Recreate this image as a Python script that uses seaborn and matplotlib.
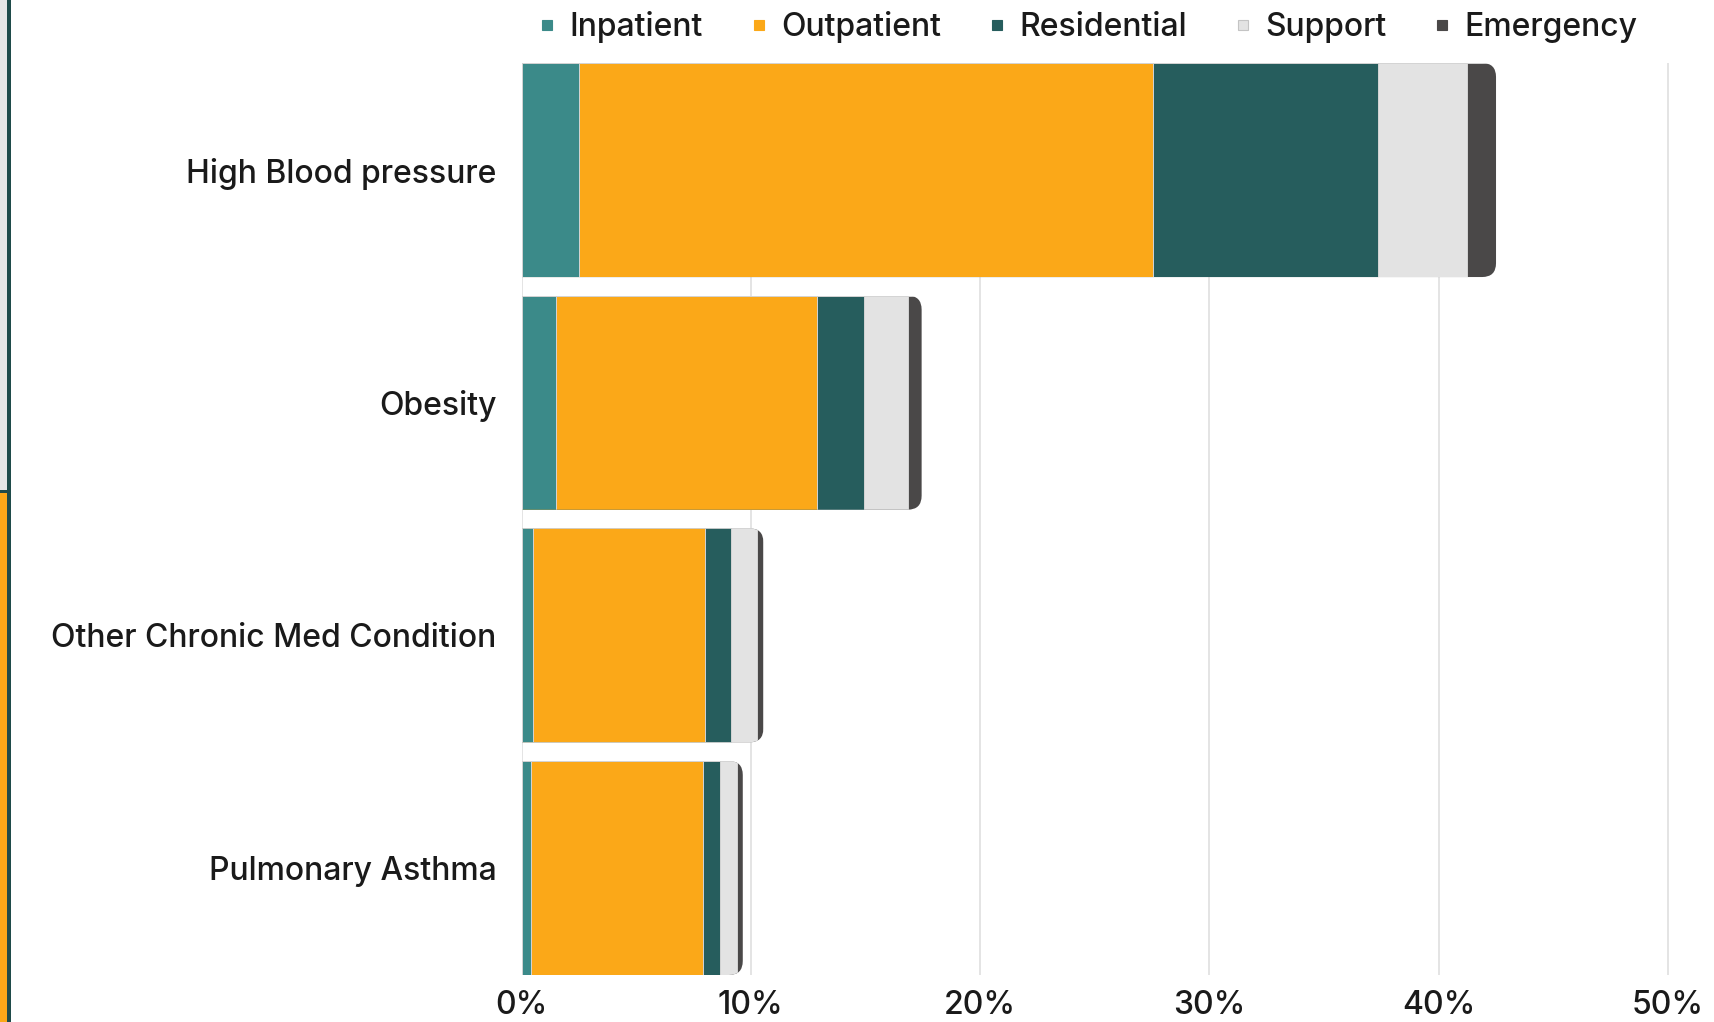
import numpy as np
import matplotlib
matplotlib.use("Agg")
import matplotlib.pyplot as plt
from matplotlib.patches import FancyBboxPatch, Rectangle
from matplotlib.lines import Line2D
import seaborn as sns

# =========================
# DATA (share of clients, %)
# =========================

conditions = ["High Blood pressure", "Obesity", "Other Chronic Med Condition", "Pulmonary Asthma"]

inpatient = [2.5, 1.5, 0.5, 0.4]
outpatient = [25.05, 11.4, 7.5, 7.5]
residential = [9.8, 2.05, 1.15, 0.75]
support = [3.9, 1.9, 1.1, 0.75]
emergency = [1.25, 0.6, 0.3, 0.25]

settings = ["Inpatient", "Outpatient", "Residential", "Support", "Emergency"]
colors = ["#3b8a89", "#fba818", "#265d5d", "#e3e3e3", "#4a4848"]

x_ticks = [0, 10, 20, 30, 40, 50]

# =========================
# STYLE
# =========================

sns.set_style("white")
plt.rcParams["font.family"] = ["Inter", "DejaVu Sans"]
plt.rcParams["font.weight"] = "medium"
text_color = "#1a1a1a"
font_size = 23

W, H = 1714, 1022
fig = plt.figure(figsize=(W / 100, H / 100), dpi=100)

# plot area in pixels: 0% at x=521.5, 50% at x=1668, bars from y=63 to y=975
ax = fig.add_axes([521.5 / W, 1 - 975 / H, (1670.3 - 521.5) / W, (975 - 63) / H])

# =========================
# STACKED BARS (cumulative overlay)
# =========================

layers = np.array([inpatient, outpatient, residential, support, emergency])
running = np.cumsum(layers, axis=0)

for k in range(len(settings) - 1, -1, -1):
    sns.barplot(
        x=running[k],
        y=conditions,
        orient="h",
        color=colors[k],
        saturation=1,
        width=0.92,
        errorbar=None,
        edgecolor="#d4d4d4",
        linewidth=0.7,
        ax=ax,
    )

ax.set_xlim(0, 50.1)
ax.set_ylim(3.46, -0.46)

# round the right end of every bar by clipping all segments of a row
p = ax.transData.transform([(0, 0), (1, 1)])
sx = abs(p[1, 0] - p[0, 0])
sy = abs(p[1, 1] - p[0, 1])
r = 14 / sx
n = len(conditions)
for j in range(n):
    outer = ax.patches[j]
    x0, y0 = outer.get_x(), outer.get_y()
    w, h = outer.get_width(), outer.get_height()
    clip = FancyBboxPatch(
        (x0 - r, y0), w + r, h,
        boxstyle=f"round,pad=0,rounding_size={r}",
        mutation_aspect=sx / sy,
        transform=ax.transData,
    )
    for k in range(len(settings)):
        ax.patches[k * n + j].set_clip_path(clip)

# =========================
# AXES
# =========================

ax.set_xticks(x_ticks)
ax.set_xticklabels([f"{v}%" for v in x_ticks])
ax.xaxis.grid(True, color="#e2e2e2", linewidth=1.3)
ax.yaxis.grid(False)
ax.set_axisbelow(True)
for s in ax.spines.values():
    s.set_visible(False)

ax.tick_params(axis="x", length=0, pad=11, labelsize=font_size, labelcolor=text_color)
ax.tick_params(axis="y", length=0, pad=18, labelsize=font_size, labelcolor=text_color)
ax.set_xlabel("")
ax.set_ylabel("")

# =========================
# LEGEND
# =========================

handles = [
    Line2D([], [], marker="s", linestyle="", markersize=7.5, color=c,
           markeredgecolor="#c4c4c4" if name == "Support" else c, markeredgewidth=0.8)
    for name, c in zip(settings, colors)
]
fig.legend(
    handles, settings,
    loc="center", bbox_to_anchor=(0.635, 1 - 27 / H),
    ncol=5, frameon=False, fontsize=font_size,
    handlelength=0.5, handletextpad=0.45, columnspacing=1.5,
    labelcolor=text_color,
)

# =========================
# DASHBOARD EDGE (cropped panel border)
# =========================

fig.add_artist(Rectangle((0, 1 - 490 / H), 7.5 / W, 490 / H, transform=fig.transFigure,
                         facecolor="#e6e6e6", edgecolor="none"))
fig.add_artist(Rectangle((0, 0), 7.5 / W, 1 - 492 / H, transform=fig.transFigure,
                         facecolor="#fba818", edgecolor="none"))
fig.add_artist(Rectangle((0, 1 - 493 / H), 7.5 / W, 3 / H, transform=fig.transFigure,
                         facecolor="#1f4b4a", edgecolor="none"))
fig.add_artist(Rectangle((7.5 / W, 0), 3.5 / W, 1, transform=fig.transFigure,
                         facecolor="#1f4b4a", edgecolor="none"))

fig.savefig("out.png", dpi=100)
